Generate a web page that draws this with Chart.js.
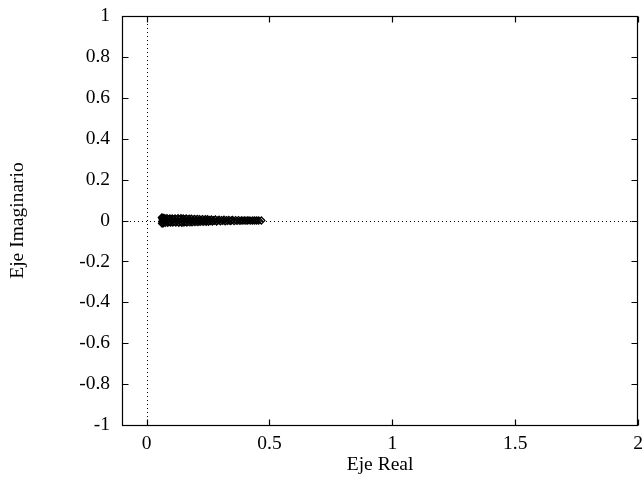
<!DOCTYPE html>
<html>
<head>
<meta charset="utf-8">
<script src="https://cdn.jsdelivr.net/npm/chart.js@4/dist/chart.umd.min.js"></script>
<style>
html,body{margin:0;padding:0;background:#fff;}
#wrap{width:642px;height:479px;position:relative;}
</style>
</head>
<body>
<div id="wrap"><canvas id="c" width="642" height="479"></canvas></div>
<script>
const realPart = [0.062,0.063,0.064,0.065,0.066,0.067,0.068,0.07,0.072,0.074,
0.076,0.078,0.08,0.083,0.086,0.089,0.092,0.095,0.098,0.101,
0.104,0.107,0.11,0.113,0.116,0.119,0.122,0.125,0.128,0.131,
0.134,0.137,0.14,0.143,0.146,0.149,0.152,0.155,0.158,0.161,
0.164,0.167,0.17,0.173,0.176,0.179,0.182,0.185,0.188,0.191,
0.194,0.197,0.2,0.203,0.206,0.209,0.212,0.215,0.218,0.221,
0.224,0.227,0.23,0.233,0.236,0.239,0.242,0.245,0.248,0.252,
0.256,0.26,0.264,0.268,0.272,0.276,0.28,0.285,0.29,0.295,
0.3,0.305,0.31,0.315,0.32,0.325,0.33,0.335,0.34,0.345,
0.35,0.356,0.362,0.368,0.374,0.38,0.386,0.392,0.398,0.404,
0.41,0.417,0.424,0.432,0.44,0.448,0.456,0.467];
const imagPart = [0.015,-0.015,0.008,-0.008,0,0.014,-0.014,0.006,-0.006,0.012,
-0.012,0.003,-0.003,0.011,-0.011,0.006,-0.006,0.01,-0.01,0,
0.01,-0.01,0.005,-0.005,0.01,-0.01,0.004,-0.004,0.011,-0.011,
0.005,-0.005,0.011,-0.011,0,0.01,-0.01,0.005,-0.005,0.01,
-0.01,0.004,-0.004,0.009,-0.009,0,0.009,-0.009,0.004,-0.004,
0.008,-0.008,0.004,-0.004,0.008,-0.008,0,0.007,-0.007,0.003,
-0.003,0.007,-0.007,0.003,-0.003,0.006,-0.006,0,0.006,-0.006,
0.003,-0.003,0.005,-0.005,0.002,-0.002,0.005,-0.005,0,0.004,
-0.004,0.002,-0.002,0.004,-0.004,0.002,-0.002,0.003,-0.003,0,
0.003,-0.003,0.002,-0.002,0.002,-0.002,0.001,-0.001,0.001,-0.001,
0,0.001,-0.001,0,0,0,0,0];
const xTicks = [0,0.5,1,1.5,2];
const xTickLabels = ['0','0.5','1','1.5','2'];
const yTicks = [-1,-0.8,-0.6,-0.4,-0.2,0,0.2,0.4,0.6,0.8,1];
const yTickLabels = ['-1','-0.8','-0.6','-0.4','-0.2','0','0.2','0.4','0.6','0.8','1'];
const xTitle = 'Eje Real';
const yTitle = 'Eje Imaginario';

const points = realPart.map((r,i)=>({x:r,y:imagPart[i]}));
const FONT = {family:'"Liberation Serif","DejaVu Serif",serif', size:19.5};

const framePlugin = {
  id:'frame',
  beforeDatasetsDraw(chart){
    const {ctx, chartArea:a, scales:{x,y}} = chart;
    ctx.save();
    ctx.strokeStyle='#000';
    ctx.lineWidth=1;
    ctx.setLineDash([1,3]);
    const x0 = Math.round(x.getPixelForValue(0))+0.5;
    const y0 = Math.round(y.getPixelForValue(0))+0.5;
    ctx.beginPath();
    ctx.moveTo(x0,a.top); ctx.lineTo(x0,a.bottom);
    ctx.moveTo(a.left,y0); ctx.lineTo(a.right,y0);
    ctx.stroke();
    ctx.restore();
  },
  afterDatasetsDraw(chart){
    const {ctx, chartArea:a, scales:{x,y}} = chart;
    ctx.save();
    ctx.strokeStyle='#000';
    ctx.lineWidth=1.2;
    ctx.setLineDash([]);
    const L=Math.round(a.left)+0.5, R=Math.round(a.right)-0.5, T=Math.round(a.top)+0.5, B=Math.round(a.bottom)+0.5;
    ctx.strokeRect(L,T,R-L,B-T);
    const tl=6;
    ctx.beginPath();
    xTicks.forEach(v=>{
      const px=Math.round(x.getPixelForValue(v))+0.5;
      ctx.moveTo(px,B); ctx.lineTo(px,B-tl);
      ctx.moveTo(px,T); ctx.lineTo(px,T+tl);
    });
    yTicks.forEach(v=>{
      const py=Math.round(y.getPixelForValue(v))+0.5;
      ctx.moveTo(L,py); ctx.lineTo(L+tl,py);
      ctx.moveTo(R,py); ctx.lineTo(R-tl,py);
    });
    ctx.stroke();
    ctx.restore();
  }
};

new Chart(document.getElementById('c'),{
  type:'scatter',
  data:{datasets:[{
    data:points,
    pointStyle:'rectRot',
    pointRadius:3.5,
    borderWidth:1.3,
    borderColor:'#000',
    backgroundColor:'rgba(0,0,0,0)'
  }]},
  options:{
    responsive:false,
    animation:false,
    events:[],
    layout:{autoPadding:false,padding:{top:16,right:0,left:0,bottom:0}},
    plugins:{legend:{display:false},tooltip:{enabled:false}},
    scales:{
      x:{
        type:'linear',min:-0.1,max:2,
        grid:{display:false},border:{display:false},
        afterBuildTicks:s=>{s.ticks=xTicks.map(v=>({value:v}));},
        afterFit:s=>{s.height=54;},
        ticks:{color:'#000',font:FONT,padding:-1,maxRotation:0,autoSkip:false,
          callback:(v)=>{const i=xTicks.indexOf(v);return i>=0?xTickLabels[i]:'';}},
        title:{display:true,text:xTitle,color:'#000',font:FONT,padding:{top:-4,bottom:2}}
      },
      y:{
        type:'linear',min:-1,max:1,
        grid:{display:false},border:{display:false},
        afterBuildTicks:s=>{s.ticks=yTicks.map(v=>({value:v}));},
        afterFit:s=>{s.width=122;},
        ticks:{color:'#000',font:FONT,padding:4,autoSkip:false,
          callback:(v)=>{const i=yTicks.indexOf(v);return i>=0?yTickLabels[i]:'';}},
        title:{display:true,text:yTitle,color:'#000',font:FONT,padding:{top:6,bottom:0}}
      }
    }
  },
  plugins:[framePlugin]
});
</script>
</body>
</html>
